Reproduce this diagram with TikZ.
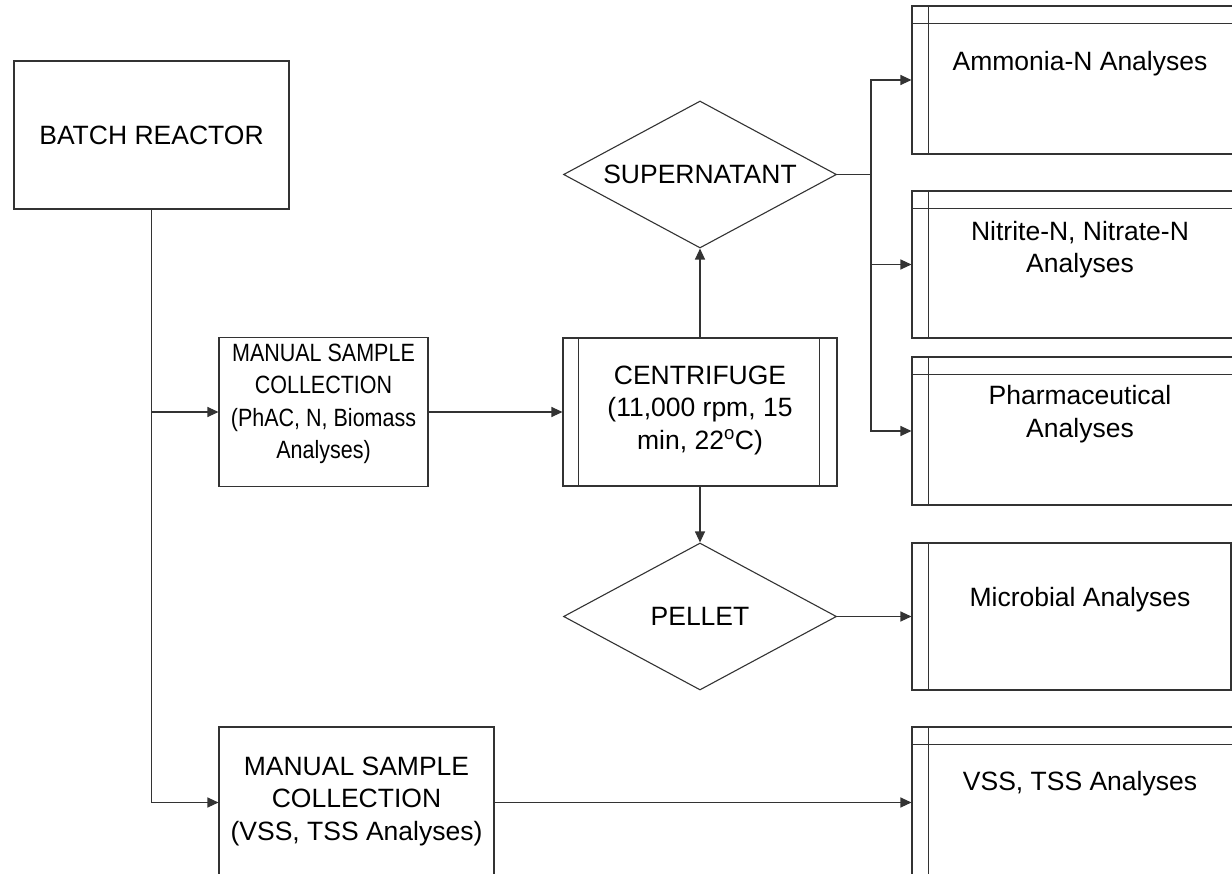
\documentclass[tikz,border=0pt]{standalone}
\usepackage{fontspec}
\setmainfont{Liberation Sans}
\newfontfamily\narrowfont[FakeStretch=0.86]{Liberation Sans}
\usetikzlibrary{arrows.meta,shapes.geometric}
\begin{document}
\begin{tikzpicture}[x=1pt,y=-1pt,
  line/.style={draw=black!80, line width=1.1pt},
  box/.style={line, rectangle, inner sep=0pt},
  dia/.style={line, diamond, inner sep=0pt, minimum width=273pt, minimum height=147pt},
  txt/.style={font=\fontsize{26.5}{32.5}\selectfont, align=center, inner sep=0pt, text=black},
  narrowtxt/.style={txt, font=\narrowfont\fontsize{25}{32.5}\selectfont},
  arr/.style={line, -{Triangle[length=11pt,width=10pt]}},
]
\useasboundingbox (0,0) rectangle (1232,874);
\clip (0,0) rectangle (1232,874);
\fill[white] (0,0) rectangle (1232,874);

% left column
\node[box, minimum width=275pt, minimum height=148pt] (br) at (151.5,135) {};
\node[txt] (brt) at (151.5,135) {BATCH REACTOR};

\node[box, minimum width=209pt, minimum height=149pt] (m1) at (323.5,412) {};
\node[narrowtxt] (m1t) at (323.5,404) {MANUAL SAMPLE\\COLLECTION\\(PhAC, N, Biomass\\Analyses)};

\node[box, minimum width=275pt, minimum height=151pt] (m2) at (356.5,802.5) {};
\node[txt] (m2t) at (356.5,801) {MANUAL SAMPLE\\COLLECTION\\(VSS, TSS Analyses)};

% centrifuge
\node[box, minimum width=274pt, minimum height=148pt] (cent) at (700,412) {};
\draw[line] ([xshift=16pt]cent.north west) -- ([xshift=16pt]cent.south west);
\draw[line] ([xshift=-18pt]cent.north east) -- ([xshift=-18pt]cent.south east);
\node[txt] (centt) at (700,410) {CENTRIFUGE\\(11,000 rpm, 15\\min, 22\textsuperscript{o}C)};

% diamonds
\node[dia] (sup) at (700,174.5) {};
\node[txt] (supt) at (700,174) {SUPERNATANT};
\node[dia] (pel) at (700,616.5) {};
\node[txt] (pelt) at (700,616) {PELLET};

% right boxes
\node[box, minimum width=324pt, minimum height=148pt] (r1) at (1074,80) {};
\node[box, minimum width=324pt, minimum height=147pt] (r2) at (1074,264.5) {};
\node[box, minimum width=324pt, minimum height=148pt] (r3) at (1074,431) {};
\node[box, minimum width=319pt, minimum height=147pt] (mic) at (1071.5,616.5) {};
\node[box, minimum width=324pt, minimum height=151pt] (r5) at (1074,802.5) {};
\foreach \b in {r1,r2,r3,mic,r5}{
  \draw[line] ([xshift=17pt]\b.north west) -- ([xshift=17pt]\b.south west);
}
\foreach \b in {r1,r2,r3,r5}{
  \draw[line] ([yshift=-18pt]\b.north west) -- ([yshift=-18pt]\b.north east);
}
\node[txt] (r1t) at (1080,64) {Ammonia-N Analyses};
\node[txt] (r2t) at (1080,249.5) {Nitrite-N, Nitrate-N\\Analyses};
\node[txt] (r3t) at (1080,414) {Pharmaceutical\\Analyses};
\node[txt] (mict) at (1080,600) {Microbial Analyses};
\node[txt] (r5t) at (1080,784) {VSS, TSS Analyses};

% connectors
\coordinate (jn) at (871,174.5);
\draw[arr] (br.south) |- (m1.west);
\draw[arr] (br.south) |- (m2.west);
\draw[arr] (m1.east) -- (cent.west);
\draw[arr] (cent.north) -- (sup.south);
\draw[arr] (cent.south) -- (pel.north);
\draw[line] (sup.east) -- (jn);
\draw[arr] (jn) |- (r1.west);
\draw[arr] (jn) |- (r2.west);
\draw[arr] (jn) |- (r3.west);
\draw[arr] (pel.east) -- (mic.west);
\draw[arr] (m2.east) -- (r5.west);
\end{tikzpicture}
\end{document}
